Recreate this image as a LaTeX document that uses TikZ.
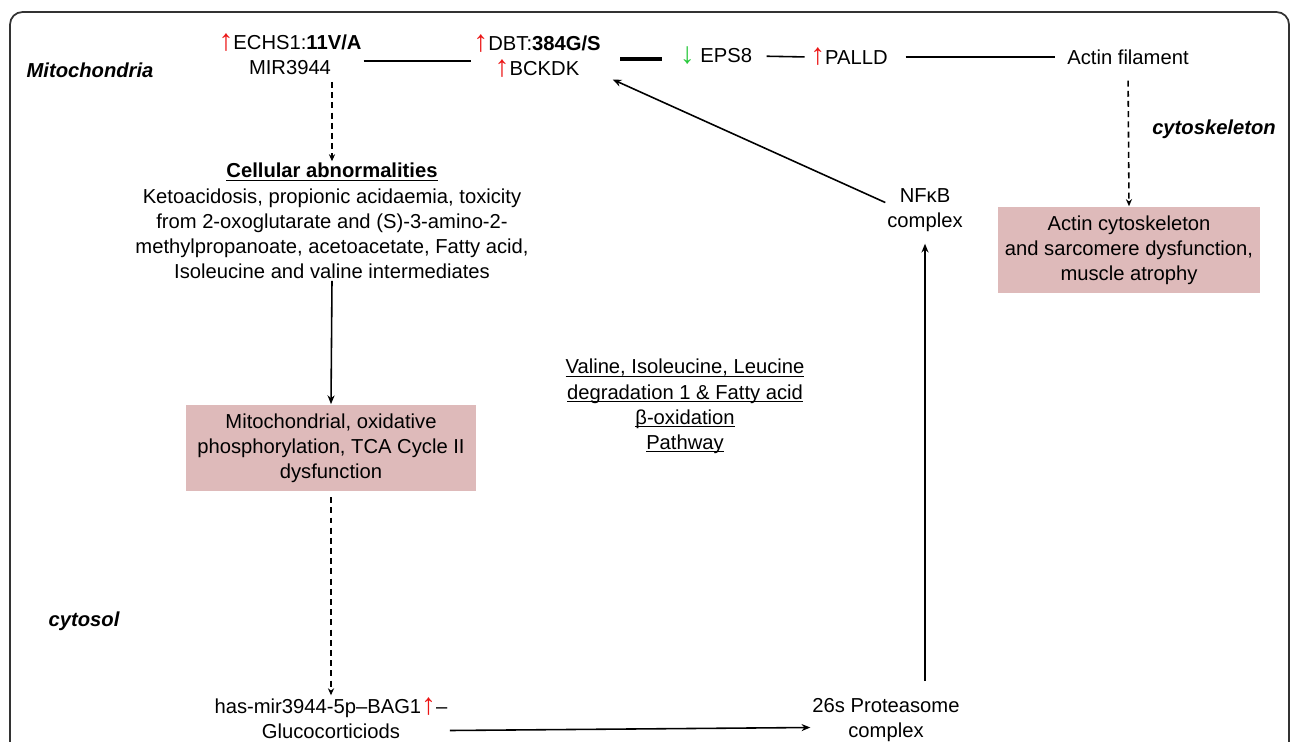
\documentclass[tikz,border=0pt]{standalone}
\usepackage{fontspec}
\setmainfont{Liberation Sans}
\usetikzlibrary{arrows.meta}

\definecolor{boxpink}{RGB}{222,186,186}
\definecolor{upred}{RGB}{235,20,20}
\definecolor{downgreen}{RGB}{40,200,60}
\newcommand{\uparr}{{\color{upred}\fontsize{17}{14}\selectfont\raisebox{-0.5pt}{↑}}}
\newcommand{\downarr}{{\color{downgreen}\fontsize{17}{14}\selectfont\raisebox{-1pt}{↓}}}
\newcommand{\ul}[1]{\underline{\raisebox{0pt}[\height][0pt]{#1}}}

\begin{document}
\begin{tikzpicture}[
    x=0.02cm, y=-0.02cm,
    txt/.style={align=center, inner sep=1pt, font=\fontsize{11.5}{14.3}\selectfont},
    region/.style={inner sep=1pt, font=\fontsize{11.5}{14.3}\selectfont\bfseries\itshape},
    pinkbox/.style={txt, fill=boxpink, minimum height=1.74cm},
    link/.style={line width=0.9pt},
    arr/.style={line width=0.9pt, -{Stealth[length=5pt, width=4pt]}},
    dasharr/.style={line width=0.9pt, dash pattern=on 3.4pt off 2.4pt, -{Stealth[length=4pt, width=3.5pt]}}
]
\useasboundingbox (0,0) rectangle (1292,741);

% frame
\draw[line width=1pt, black!80, rounded corners=0.25cm] (10,800) -- (10,12) -- (1289,12) -- (1289,800);

% compartments
\node[region] (mito) at (90,70) {Mitochondria};
\node[region] (cyto) at (1214,129) {cytoskeleton};
\node[region] (cytosol) at (84,621) {cytosol};

% top row
\node[txt] (echs) at (290,54) {\uparr ECHS1:\textbf{11V/A}\\MIR3944};
\node[txt] (dbt) at (537,56) {\uparr DBT:\textbf{384G/S}\\\uparr BCKDK};
\node[txt] (eps) at (716,56) {\downarr\ EPS8};
\node[txt] (palld) at (849,57) {\uparr PALLD};
\node[txt] (actin) at (1128,57) {Actin filament};

\draw[link] ([yshift=-0.14cm]echs.east) -- ([yshift=-0.14cm]echs.east -| dbt.west);
\draw[line width=1.8pt, shorten <=10pt, shorten >=9pt] ([yshift=-0.06cm]dbt.east) -- ([yshift=-0.06cm]dbt.east -| eps.west);
\draw[link, shorten <=7pt, shorten >=2pt] (eps.east) -- (palld.west);
\draw[link, shorten <=9pt, shorten >=6pt] (palld.east) -- (actin.west);

% left column
\node[txt] (cellab) at (332,221) {\textbf{\ul{Cellular abnormalities}}\\
    Ketoacidosis, propionic acidaemia, toxicity\\
    from 2-oxoglutarate and (S)-3-amino-2-\\
    methylpropanoate, acetoacetate, Fatty acid,\\
    Isoleucine and valine intermediates};
\node[pinkbox, minimum width=5.82cm] (mitobox) at (331,448) {Mitochondrial, oxidative\\phosphorylation, TCA Cycle II\\dysfunction};
\node[txt] (bag) at (331,718) {has-mir3944-5p--BAG1\uparr--\\Glucocorticiods};

\draw[dasharr, shorten <=3pt] (cellab.north |- echs.south) -- (cellab.north);
\draw[arr] (cellab.south) -- (mitobox.north);
\draw[dasharr, shorten <=3pt] (mitobox.south) -- (bag.north);

% middle
\node[txt] (pathway) at (685,406) {\ul{Valine, Isoleucine, Leucine}\\\ul{degradation 1 \& Fatty acid}\\\ul{β-oxidation}\\\ul{Pathway}};

% right column
\node[txt] (nfkb) at (925,210) {NFκB\\complex};
\node[pinkbox, minimum width=5.24cm] (cytobox) at (1129,250) {Actin cytoskeleton\\and sarcomere dysfunction,\\muscle atrophy};
\node[txt] (prot) at (886,720) {26s Proteasome\\complex};

\draw[dasharr, shorten <=8pt] (actin.south) -- (cytobox.north);
\draw[arr] ([yshift=-0.25cm]bag.east) ++(0.3,0) -- ([yshift=-0.15cm]prot.west);
\draw[arr, shorten <=0.3cm, shorten >=0.2cm] (nfkb.south |- prot.north) -- (nfkb.south);
\draw[arr] ([yshift=0.15cm]nfkb.west) -- ([xshift=0.2cm]dbt.south east);

\end{tikzpicture}
\end{document}
